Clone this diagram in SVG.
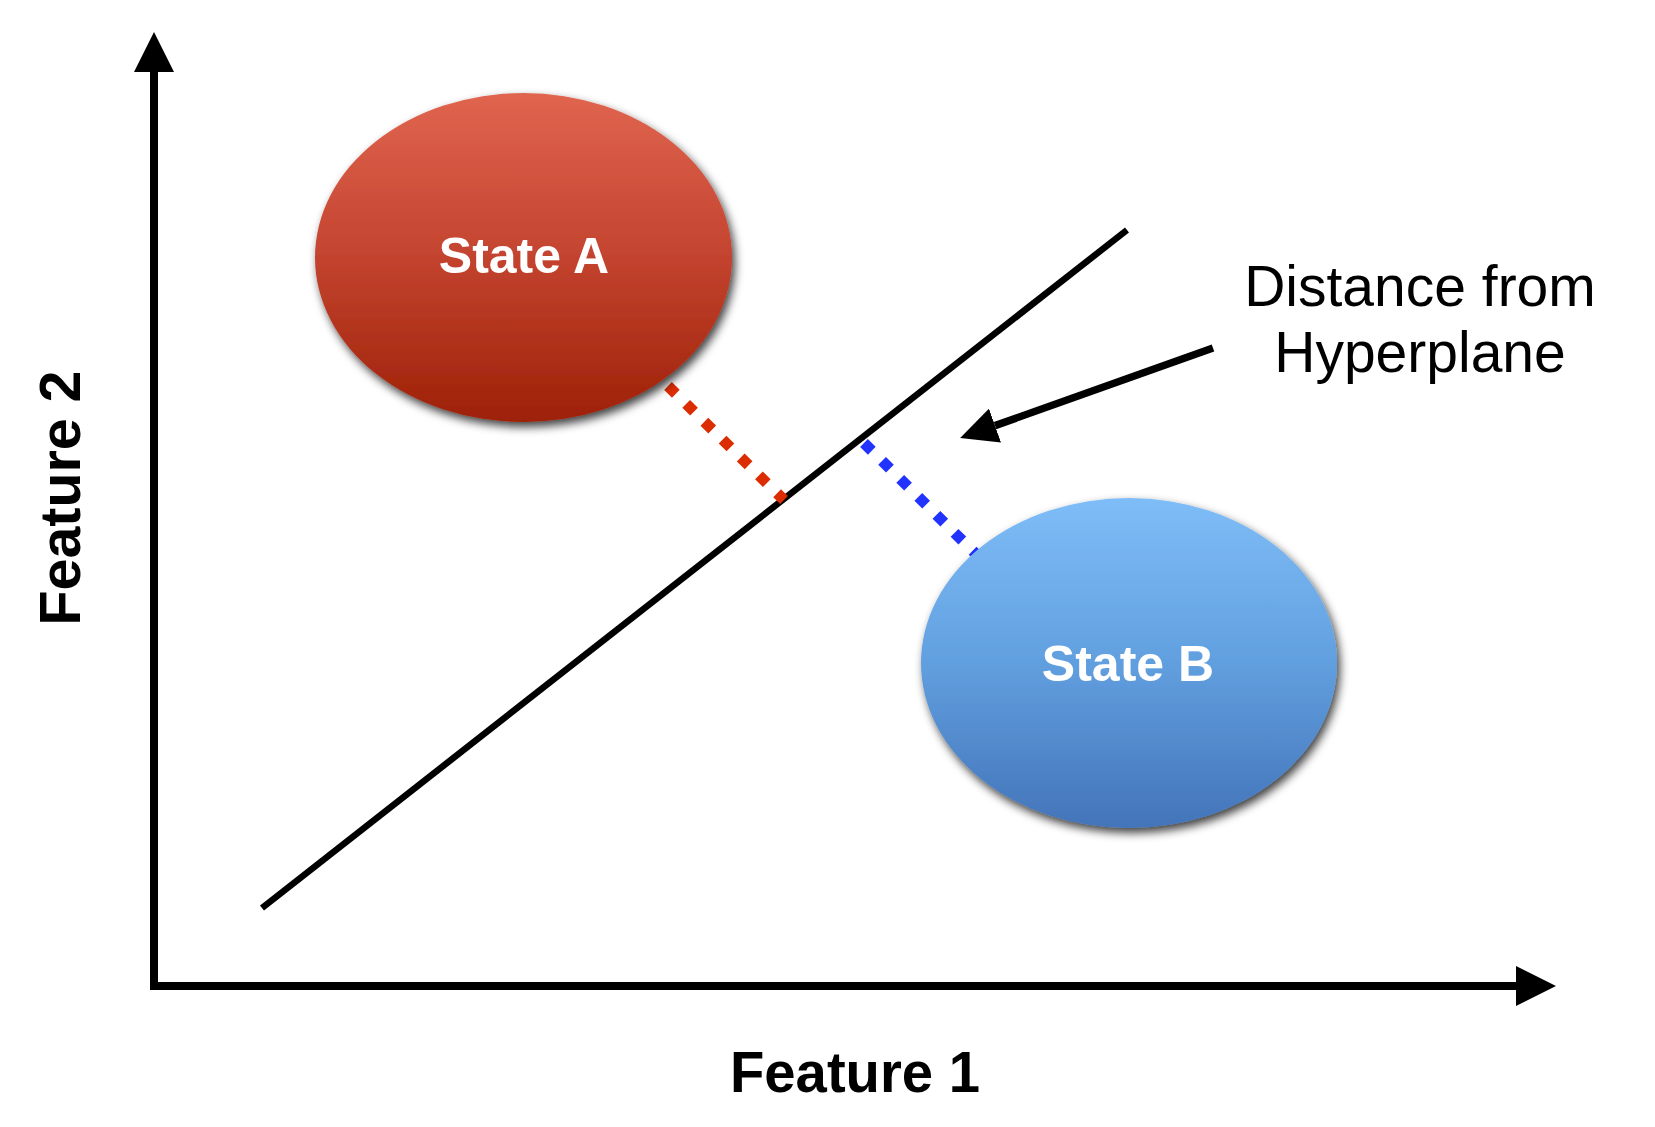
<svg xmlns="http://www.w3.org/2000/svg" width="1655" height="1127" viewBox="0 0 1655 1127">
  <style>
    .axis { stroke: #000; stroke-width: 8; fill: none; stroke-linecap: butt; }
    .hyper { stroke: #000; stroke-width: 6.5; fill: none; }
    .pointer { stroke: #000; stroke-width: 7.5; fill: none; }
    .dots { stroke-width: 11; stroke-dasharray: 11 14.5; fill: none; }
    .state { font-family: "Liberation Sans", Arial, sans-serif; font-weight: bold; font-size: 50px; fill: #fff; text-anchor: middle; }
    .axlabel { font-family: "Liberation Sans", Arial, sans-serif; font-weight: bold; font-size: 58px; fill: #000; text-anchor: middle; }
    .note { font-family: "Liberation Sans", Arial, sans-serif; font-size: 57px; fill: #000; text-anchor: middle; }
  </style>
  <defs>
    <linearGradient id="gradA" x1="0" y1="0" x2="0" y2="1">
      <stop offset="0" stop-color="#e0654f"/>
      <stop offset="0.5" stop-color="#c3432f"/>
      <stop offset="1" stop-color="#9d2106"/>
    </linearGradient>
    <linearGradient id="gradB" x1="0" y1="0" x2="0" y2="1">
      <stop offset="0" stop-color="#7fbdf8"/>
      <stop offset="0.5" stop-color="#619fdf"/>
      <stop offset="1" stop-color="#4374b9"/>
    </linearGradient>
    <filter id="shadow" x="-20%" y="-20%" width="140%" height="140%">
      <feDropShadow dx="3" dy="5" stdDeviation="5" flood-color="#000" flood-opacity="0.75"/>
    </filter>
    <marker id="axisHead" markerUnits="userSpaceOnUse" viewBox="0 0 40 40" refX="0" refY="20" markerWidth="40" markerHeight="40" orient="auto">
      <path d="M0,0 L40,20 L0,40 Z" fill="#000"/>
    </marker>
    <marker id="pointerHead" markerUnits="userSpaceOnUse" viewBox="0 0 37 36" refX="0" refY="18" markerWidth="37" markerHeight="36" orient="auto">
      <path d="M0,0 L37,18 L0,36 Z" fill="#000"/>
    </marker>
  </defs>

  <rect width="1655" height="1127" fill="#fff"/>

  <g id="connectors">
    <path id="y-axis" class="axis" d="M154,990 L154,72" marker-end="url(#axisHead)"/>
    <path id="x-axis" class="axis" d="M150,986 L1516,986" marker-end="url(#axisHead)"/>
    <path id="hyperplane" class="hyper" d="M262,908 L1127,230"/>
    <path id="dist-A" class="dots" stroke="#dc2c02" d="M668,386 L784,500"/>
    <path id="dist-B" class="dots" stroke="#2233ff" d="M864,443 L985,563"/>
    <path id="pointer" class="pointer" d="M1213,348 L995,425.6" marker-end="url(#pointerHead)"/>
  </g>

  <g id="stateA">
    <ellipse cx="523.5" cy="257.5" rx="208.5" ry="164.5" fill="url(#gradA)" filter="url(#shadow)"/>
    <text class="state" x="524" y="273">State A</text>
  </g>

  <g id="stateB">
    <ellipse cx="1129" cy="663" rx="208" ry="165" fill="url(#gradB)" filter="url(#shadow)"/>
    <text class="state" x="1128" y="681">State B</text>
  </g>

  <g id="label-distance">
    <text class="note" x="1420" y="306">Distance from</text>
    <text class="note" x="1420" y="372">Hyperplane</text>
  </g>

  <g id="label-feature1">
    <text class="axlabel" x="855" y="1092" textLength="250" lengthAdjust="spacingAndGlyphs">Feature 1</text>
  </g>

  <g id="label-feature2">
    <text class="axlabel" transform="translate(80,498) rotate(-90)" x="0" y="0" textLength="255" lengthAdjust="spacingAndGlyphs">Feature 2</text>
  </g>
</svg>
